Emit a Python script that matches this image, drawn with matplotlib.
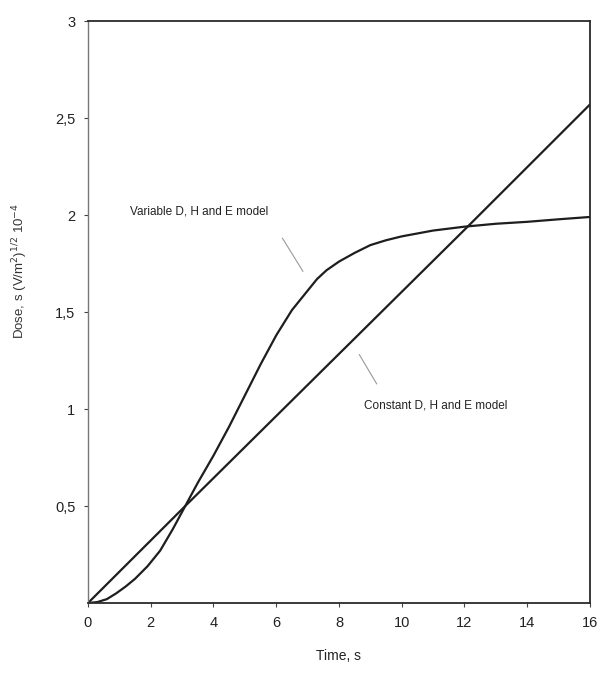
import matplotlib
matplotlib.use('Agg')
import matplotlib.pyplot as plt

plt.rcParams['font.family'] = ['Liberation Sans', 'DejaVu Sans']

# time axis, s
t_variable = [0, 0.3, 0.6, 0.9, 1.2, 1.5, 1.9, 2.3, 2.7, 3.1, 3.5, 4.0, 4.5, 5.0,
              5.5, 6.0, 6.5, 7.0, 7.3, 7.6, 8.0, 8.5, 9.0, 9.5, 10, 11, 12, 13,
              14, 15, 16]
dose_variable = [0, 0.005, 0.02, 0.05, 0.085, 0.125, 0.19, 0.27, 0.38, 0.50,
                 0.62, 0.76, 0.91, 1.07, 1.23, 1.38, 1.51, 1.61, 1.67, 1.715,
                 1.76, 1.805, 1.845, 1.87, 1.89, 1.92, 1.94, 1.955, 1.965,
                 1.978, 1.99]

t_constant = [0, 3.1, 12.1, 16]
dose_constant = [0, 0.50, 1.94, 2.57]

x_ticks = [0, 2, 4, 6, 8, 10, 12, 14, 16]
y_ticks = [0.5, 1, 1.5, 2, 2.5, 3]
y_ticklabels = ['0,5', '1', '1,5', '2', '2,5', '3']

fig = plt.figure(figsize=(6.01, 6.74), dpi=100)
ax = fig.add_axes([0.1464, 0.1053, 0.8353, 0.8635])

ax.plot(t_variable, dose_variable, color='#1e1e1e', lw=1.6)
ax.plot(t_constant, dose_constant, color='#1e1e1e', lw=1.6)

ax.set_xlim(0, 16)
ax.set_ylim(0, 3)
ax.set_xticks(x_ticks)
ax.set_xticklabels([str(v) for v in x_ticks])
ax.set_yticks(y_ticks)
ax.set_yticklabels(y_ticklabels)
ax.tick_params(direction='out', length=3, width=0.8, colors='#444444',
               labelsize=10.5, labelcolor='#222222', pad=6)

for side in ['top', 'right', 'bottom']:
    ax.spines[side].set_color('#2a2a2a')
    ax.spines[side].set_linewidth(1.3)
ax.spines['left'].set_color('#777777')
ax.spines['left'].set_linewidth(1.0)

# curve labels with short leader lines
ax.text(1.35, 2.02, 'Variable D, H and E model', fontsize=8.5, color='#222222',
        va='center', ha='left')
ax.plot([6.2, 6.85], [1.88, 1.71], color='#999999', lw=0.8)

ax.text(8.8, 1.02, 'Constant D, H and E model', fontsize=8.5, color='#222222',
        va='center', ha='left')
ax.plot([8.65, 9.2], [1.28, 1.13], color='#999999', lw=0.8)

ax.set_xlabel('Time, s', fontsize=10, color='#222222', labelpad=14)
ax.set_ylabel(r'Dose, s (V/m$^{2}$)$^{1/2}$ 10$^{-4}$', fontsize=9.5,
              color='#333333')
ax.yaxis.set_label_coords(-0.115, 0.57)

fig.savefig('out.png', dpi=100)
